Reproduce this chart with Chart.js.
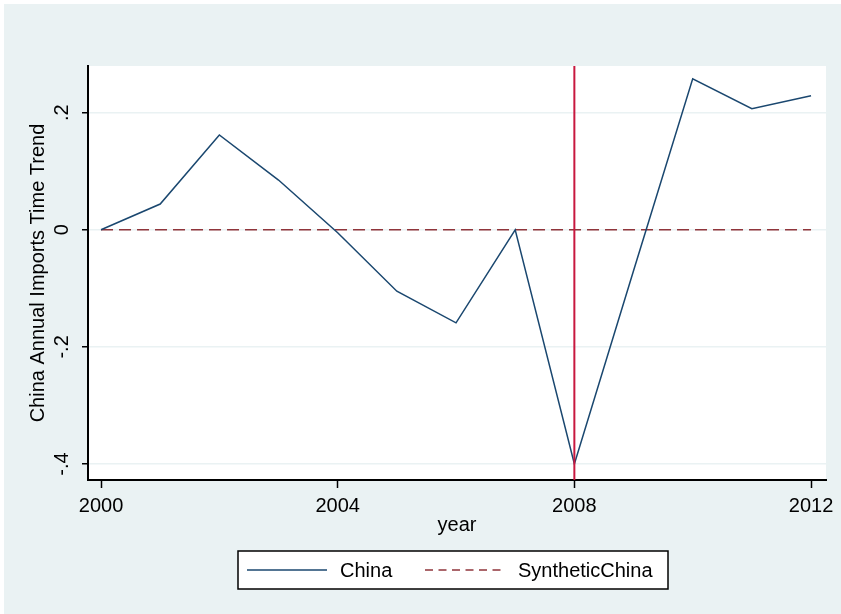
<!DOCTYPE html>
<html>
<head>
<meta charset="utf-8">
<script src="https://cdn.jsdelivr.net/npm/chart.js@4.4.1/dist/chart.umd.min.js"></script>
<style>
  html, body { margin: 0; padding: 0; background: #ffffff; }
  canvas { display: block; }
</style>
</head>
<body>
<canvas id="grafico" width="841" height="614"></canvas>
<script>
// dados
const anos = [2000, 2001, 2002, 2003, 2004, 2005, 2006, 2007, 2008, 2009, 2010, 2011, 2012];
const china = [0, 0.044, 0.162, 0.085, -0.005, -0.105, -0.159, 0, -0.40, -0.07, 0.258, 0.207, 0.229];
const sinteticoChina = [0, 0, 0, 0, 0, 0, 0, 0, 0, 0, 0, 0, 0];
const anoTratamento = 2008;
const ticksX = [2000, 2004, 2008, 2012];
const ticksY = [-0.4, -0.2, 0, 0.2];
const labelsY = ["-.4", "-.2", "0", ".2"];

const fonte = "'Liberation Sans', Arial, sans-serif";
const corFundo = "#eaf2f3";

// fundo, linha vertical, rótulos do eixo y, título x e legenda
const desenhoStata = {
    id: "desenhoStata",
    beforeDraw(chart) {
        const c = chart.ctx;
        const a = chart.chartArea;
        c.save();
        c.fillStyle = "#ffffff";
        c.fillRect(0, 0, chart.width, chart.height);
        c.fillStyle = corFundo;
        c.fillRect(4, 4, chart.width - 4, chart.height - 4);
        c.fillStyle = "#ffffff";
        c.fillRect(a.left, a.top, a.right - a.left, a.bottom - a.top);
        c.restore();
    },
    afterDatasetsDraw(chart) {
        const c = chart.ctx;
        const a = chart.chartArea;
        const x = chart.scales.x.getPixelForValue(anoTratamento);
        c.save();
        c.strokeStyle = "#c8183f";
        c.lineWidth = 2;
        c.beginPath();
        c.moveTo(x, a.top);
        c.lineTo(x, a.bottom);
        c.stroke();
        c.restore();
    },
    afterDraw(chart) {
        const c = chart.ctx;
        const a = chart.chartArea;
        const y = chart.scales.y;
        c.save();
        c.fillStyle = "#000000";
        c.font = "20px " + fonte;
        c.textAlign = "center";
        c.textBaseline = "middle";

        // rótulos do eixo y (girados)
        ticksY.forEach((v, i) => {
            c.save();
            c.translate(62, y.getPixelForValue(v));
            c.rotate(-Math.PI / 2);
            c.fillText(labelsY[i], 0, 0);
            c.restore();
        });

        // título do eixo y
        c.save();
        c.translate(38, (a.top + a.bottom) / 2);
        c.rotate(-Math.PI / 2);
        c.fillText("China Annual Imports Time Trend", 0, 0);
        c.restore();

        // título do eixo x
        c.textBaseline = "alphabetic";
        c.fillText("year", (a.left + a.right) / 2, 531);

        // legenda
        c.fillStyle = "#ffffff";
        c.fillRect(238, 551, 430, 38);
        c.strokeStyle = "#000000";
        c.lineWidth = 1.5;
        c.strokeRect(238, 551, 430, 38);

        c.lineWidth = 1.5;
        c.strokeStyle = "#1a476f";
        c.beginPath();
        c.moveTo(247, 570);
        c.lineTo(327, 570);
        c.stroke();

        c.strokeStyle = "#90353b";
        c.setLineDash([8, 5.5]);
        c.beginPath();
        c.moveTo(425, 570);
        c.lineTo(505, 570);
        c.stroke();
        c.setLineDash([]);

        c.fillStyle = "#000000";
        c.textAlign = "left";
        c.textBaseline = "middle";
        c.fillText("China", 340, 571);
        c.fillText("SyntheticChina", 518, 571);
        c.restore();
    }
};

const ctx = document.getElementById("grafico").getContext("2d");
new Chart(ctx, {
    type: "line",
    data: {
        datasets: [
            {
                label: "China",
                data: anos.map((a, i) => ({ x: a, y: china[i] })),
                borderColor: "#1a476f",
                borderWidth: 1.5,
                pointRadius: 0,
                tension: 0,
                fill: false
            },
            {
                label: "SyntheticChina",
                data: anos.map((a, i) => ({ x: a, y: sinteticoChina[i] })),
                borderColor: "#90353b",
                borderWidth: 1.5,
                borderDash: [12, 6],
                pointRadius: 0,
                tension: 0,
                fill: false
            }
        ]
    },
    options: {
        responsive: false,
        animation: false,
        layout: { padding: { top: 66, right: 15, left: 0, bottom: 0 } },
        plugins: {
            legend: { display: false },
            tooltip: { enabled: false }
        },
        scales: {
            x: {
                type: "linear",
                min: 1999.78,
                max: 2012.253,
                afterBuildTicks: s => { s.ticks = ticksX.map(v => ({ value: v })); },
                afterFit: s => { s.height = 134; },
                ticks: {
                    callback: v => String(v),
                    color: "#000000",
                    font: { family: fonte, size: 20 },
                    padding: 6,
                    maxRotation: 0
                },
                grid: {
                    drawOnChartArea: false,
                    drawTicks: true,
                    tickLength: 8,
                    tickColor: "#000000",
                    tickWidth: 1.5
                },
                border: { color: "#000000", width: 2 }
            },
            y: {
                min: -0.4274,
                max: 0.2798,
                afterBuildTicks: s => { s.ticks = ticksY.map(v => ({ value: v })); },
                afterFit: s => { s.width = 88; },
                ticks: { display: false },
                grid: {
                    color: corFundo,
                    lineWidth: 1.5,
                    drawTicks: true,
                    tickLength: 6,
                    tickColor: "#000000",
                    tickWidth: 1.5
                },
                border: { color: "#000000", width: 2 }
            }
        }
    },
    plugins: [desenhoStata]
});
</script>
</body>
</html>
